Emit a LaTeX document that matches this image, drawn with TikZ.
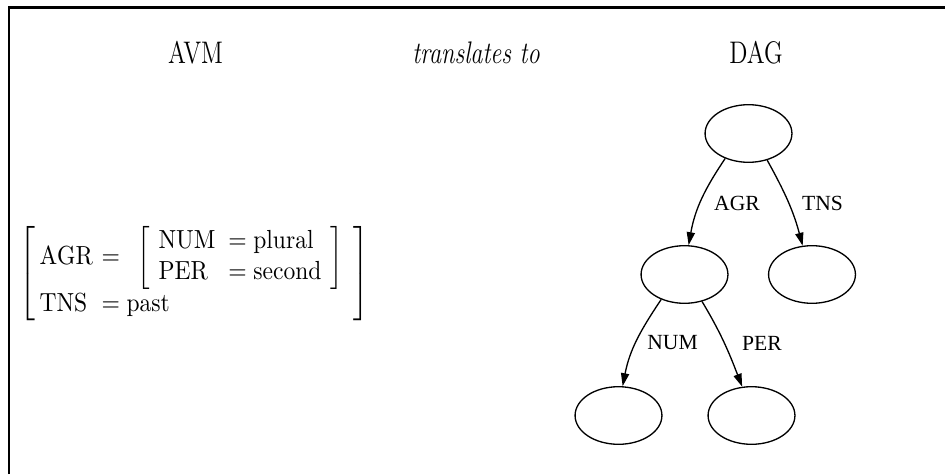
\documentclass[tikz,border=0pt]{standalone}
\usepackage{amsmath}
\usepackage{fontspec}
\newfontfamily\dagfont{Liberation Serif}
\usetikzlibrary{arrows.meta,shapes.geometric}

\tikzset{
  squeeze/.style={xscale=0.78,transform shape},
  heading/.style={squeeze,anchor=base,font=\fontsize{13}{15}\selectfont,inner sep=0pt},
  fs/.style={draw,ellipse,line width=0.55pt,minimum width=36.2pt,minimum height=24pt,inner sep=0pt},
  feat/.style={font=\dagfont\fontsize{9}{10}\selectfont,inner sep=0pt},
  arc/.style={-{Triangle[length=5.4pt,width=3.4pt]},line width=0.55pt},
}

\begin{document}
\begin{tikzpicture}[x=0.4167pt,y=0.4167pt]
  \useasboundingbox (0,0) rectangle (945,474);
  % frame
  \draw[line width=0.85pt] (9,0) -- (9,466.5) -- (945,466.5);
  % headings
  \node[heading] (hAVM) at (195.5,410) {AVM};
  \node[heading] (hto) at (476,410) {\itshape translates to};
  \node[heading] (hDAG) at (756,410) {DAG};
  % the attribute-value matrix
  \node[xscale=0.9,transform shape,anchor=west,inner sep=0pt,
        font=\fontsize{10.9}{13}\selectfont] (avm) at (19,200.5)
    {$\left[\begin{array}{@{\hspace{2pt}}l@{\hspace{4pt}}l@{\hspace{5pt}}}
      \mathrm{AGR} & = \hspace{5pt}\left[\begin{array}{@{\hspace{4pt}}l@{\hspace{6pt}}l@{\hspace{4pt}}}
          \mathrm{NUM} & = \mathrm{plural}\\
          \mathrm{PER} & = \mathrm{second}
        \end{array}\right]\\
      \mathrm{TNS} & = \mathrm{past}
    \end{array}\right]$};
  % the graph
  \node[fs] (root) at (748.5,340.5) {};
  \node[fs] (agr)  at (684.5,199.5) {};
  \node[fs] (tns)  at (812,199.5) {};
  \node[fs] (num)  at (618.5,58.5) {};
  \node[fs] (per)  at (751.5,58.5) {};
  \draw[arc] (root.-133) to[out=-124,in=80] (agr.82);
  \draw[arc] (root.-55) to[out=-61,in=105] (tns.108);
  \draw[arc] (agr.-133) to[out=-124,in=79] (num.82);
  \draw[arc] (agr.-57) to[out=-59,in=111] (per.108);
  \node[feat] (lAGR) at (737,271) {AGR};
  \node[feat] (lTNS) at (822.5,271) {TNS};
  \node[feat] (lNUM) at (672.5,131) {NUM};
  \node[feat] (lPER) at (762,131) {PER};
\end{tikzpicture}
\end{document}
